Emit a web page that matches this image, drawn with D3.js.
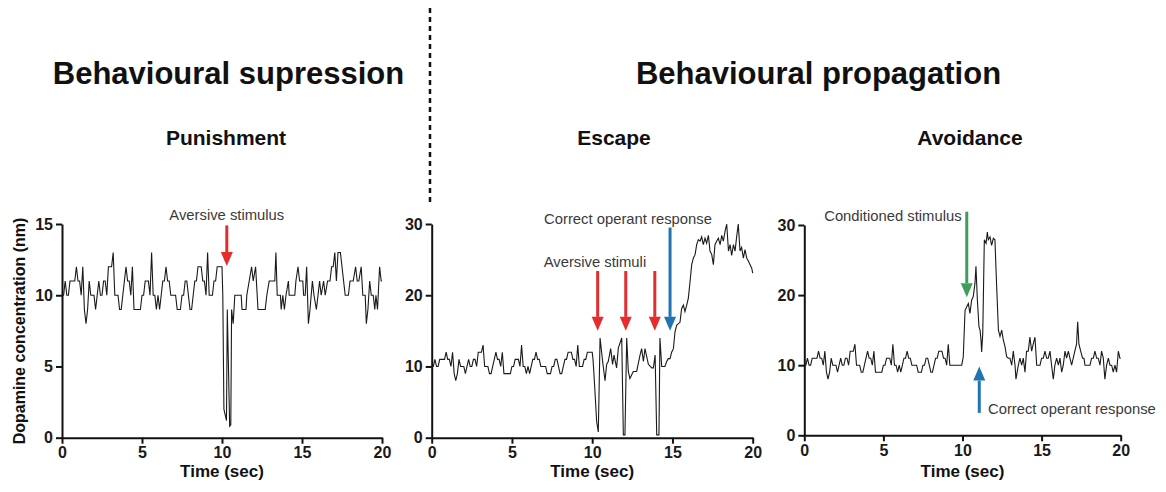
<!DOCTYPE html>
<html>
<head>
<meta charset="utf-8">
<script src="https://cdn.jsdelivr.net/npm/d3@7"></script>
<style>
  body { margin: 0; background: #fff; }
  svg { display: block; font-family: "Liberation Sans", Arial, sans-serif; }
</style>
</head>
<body>
<svg id="chart" width="1166" height="492"></svg>
<script>
// ---- data ----
// the shared pre-stimulus trace, one sample every 0.1 s from t = 0
const sampleStep = 0.1;
const baselineValues = [
  10,10,11,10,10,11,11,11,11,12,
  11,11,10,12, 9, 8, 9,11,10,10,
  10, 9,10,11,10,10,11,11,10,12,
  12,12,13,10,10,10, 9, 9,10,11,
  12,11,11,10,12, 9, 9, 9, 9, 9,
  10,10,11,11,11,10,13,10,10, 9,
  10, 9,10,11,11,12,11,11,10,10,
  10,10, 9, 9, 9,10,10,11,11,10,
   9, 9,10,11,11,12,12,12,11,11,
  10,13,10,10,10,11,11,12,12,12
];

// [time (s), dopamine (nM)] after the baseline
const punishmentTail = [
  [10.0,12],[10.05,10],[10.12,2],[10.28,1.2],[10.33,9],[10.48,0.8],[10.55,0.9],[10.6,9],[10.7,8],
  [10.8,10],[11.2,10],[11.25,9],[11.5,9],[11.55,10],[11.7,11],[11.85,12],[11.95,11],[12.1,12],
  [12.25,9],[12.7,9],[12.8,10],[12.95,11],[13.3,11],[13.37,13],[13.45,10],[13.65,10],[13.7,9],
  [13.8,10],[13.9,9],[14.0,10],[14.15,11],[14.2,10],[14.55,10],[14.62,11],[14.75,12],[14.85,11],
  [15.05,11],[15.1,10],[15.2,10],[15.29,12],[15.4,8],[15.5,9],[15.65,11],[15.75,10],[15.9,9],
  [16.1,11],[16.2,10],[16.35,11],[16.45,10],[16.6,11],[16.75,11],[16.85,12],[16.95,12],[17.05,13],
  [17.15,11],[17.25,13],[17.4,13],[17.5,12],[17.6,11],[17.7,10],[17.9,10],[18.0,11],[18.2,11],
  [18.35,12],[18.45,11],[18.55,11],[18.7,12],[18.8,10],[18.95,10],[19.02,8],[19.12,9],[19.23,11],
  [19.33,10],[19.45,10],[19.55,9],[19.62,10],[19.72,9],[19.85,12],[19.95,11],[20.0,11]
];

const escapeTail = [
  [10.0,12],[10.05,11],[10.1,9.3],[10.28,2.2],[10.38,0.8],[10.49,14],[10.65,10.7],[10.8,8],
  [10.9,10.3],[11.0,10.7],[11.15,12.5],[11.27,10.3],[11.36,11.6],[11.52,9.8],[11.63,12.6],
  [11.84,14],[11.94,0.4],[12.04,0.4],[12.15,14],[12.25,9.3],[12.35,8.3],[12.56,9.3],[12.77,9.3],
  [12.98,11.6],[13.08,12.5],[13.19,10.7],[13.29,12.5],[13.5,10.3],[13.71,9.8],[13.81,9.8],
  [13.92,11.6],[14.02,0.4],[14.16,0.4],[14.22,14],[14.33,10],[14.53,10],[14.64,10.7],[14.74,11.1],
  [14.85,11.1],[14.95,12],[15.06,12.5],[15.16,14.9],[15.27,15.8],[15.47,16.2],[15.57,18.1],
  [15.68,18.6],[15.78,17.7],[15.89,18.6],[15.99,19.6],[16.1,22],[16.2,24.3],[16.3,25.2],
  [16.41,25.7],[16.51,27.1],[16.61,27.8],[16.72,27.6],[16.82,28.2],[16.92,27.1],[17.03,28],
  [17.13,27.3],[17.24,28.4],[17.34,26.2],[17.45,25.7],[17.55,24.3],[17.65,27.1],[17.76,27.6],
  [17.86,28],[17.97,27.1],[18.07,28.4],[18.17,27.6],[18.28,29],[18.38,30],[18.49,26.2],
  [18.59,27.1],[18.69,25.6],[18.8,27.1],[18.9,26.2],[19.0,28.2],[19.1,30],[19.21,26.2],
  [19.31,26.7],[19.42,25.2],[19.52,26.4],[19.63,25.2],[19.73,24.8],[19.83,24.3],[19.94,23.8],
  [20.0,23.1]
];

const avoidanceTail = [
  [9.5,10],[9.95,10],[10.05,11.2],[10.16,17.8],[10.26,18.3],[10.37,18.8],[10.47,17.4],[10.58,19.3],
  [10.68,19.8],[10.79,21.7],[10.85,24.1],[10.94,19.3],[11.04,15.5],[11.11,15],[11.17,13.6],
  [11.21,11.9],[11.28,14.5],[11.38,27.9],[11.49,27.4],[11.57,29],[11.63,27.9],[11.74,28.3],
  [11.84,27.1],[11.95,28.1],[12.05,27.9],[12.16,21.2],[12.27,15],[12.37,14.1],[12.48,15],
  [12.58,13.6],[12.69,12.6],[12.79,11.2],[12.9,11],[13.0,11],[13.11,10],[13.21,12],[13.32,10],
  [13.38,8],[13.53,10],[13.63,11],[13.74,10],[13.84,11],[13.95,9],[14.05,12],[14.16,12],[14.26,14],
  [14.37,12],[14.47,13],[14.58,14],[14.69,10],[14.9,10],[15.0,11],[15.11,11],[15.21,12],[15.32,11],
  [15.42,11],[15.53,12],[15.63,10],[15.74,8],[15.84,10],[15.95,11],[16.06,10],[16.16,11],[16.27,9],
  [16.37,10],[16.48,12],[16.58,11],[16.69,12],[16.79,11],[16.9,10],[17.0,11],[17.1,12],[17.21,13],
  [17.28,16.2],[17.36,13],[17.47,12],[17.59,11],[17.68,11],[17.74,10],[17.95,10],[18.06,10],
  [18.16,11],[18.27,11],[18.37,12],[18.48,11],[18.58,11],[18.69,10],[18.79,12],[18.9,11],[19.0,8],
  [19.11,10],[19.22,11],[19.32,10],[19.43,10],[19.53,9],[19.64,10],[19.74,9],[19.85,12],[19.95,11],
  [20.0,11]
];

const xTicks = [0, 5, 10, 15, 20];
const punishmentYTicks = [0, 5, 10, 15];
const propagationYTicks = [0, 10, 20, 30];

// arrows: time, value at tail, value at tip, kind
const punishmentArrows = [{ t: 10.3, from: 14.9, to: 12.05, kind: "aversive" }];
const escapeArrows = [
  { t: 10.34, from: 23.4, to: 15, kind: "aversive" },
  { t: 12.09, from: 23.4, to: 15, kind: "aversive" },
  { t: 13.9, from: 23.4, to: 15, kind: "aversive" },
  { t: 14.85, from: 29.5, to: 15, kind: "response" }
];
const avoidanceArrows = [
  { t: 10.27, from: 31.9, to: 19.7, kind: "conditioned" },
  { t: 11.06, from: 3.2, to: 9.8, kind: "response" }
];

// labels: text, time, value, anchor
const punishmentNotes = [{ text: "Aversive stimulus", t: 10.3, v: 15.3, anchor: "middle" }];
const escapeNotes = [
  { text: "Correct operant response", t: 12.23, v: 30.0, anchor: "middle" },
  { text: "Aversive stimuli", t: 10.17, v: 24.0, anchor: "middle" }
];
const avoidanceNotes = [
  { text: "Conditioned stimulus", t: 5.6, v: 30.6, anchor: "middle" },
  { text: "Correct operant response", t: 11.61, v: 3.0, anchor: "start" }
];

const baselineSeries = baselineValues.map((v, i) => [i * sampleStep, v]);

// ---- layout ----
const arrowColor = { aversive: "#e52d2d", response: "#1f74b1", conditioned: "#3c9e58" };

const panels = [
  { title: "Punishment", titleX: 226, x0: 62, x1: 382, yTop: 224, yBottom: 437.7, yMax: 15,
    yTicks: punishmentYTicks, series: baselineSeries.concat(punishmentTail),
    arrows: punishmentArrows, notes: punishmentNotes },
  { title: "Escape", titleX: 614, x0: 431.7, x1: 752.7, yTop: 224, yBottom: 437.7, yMax: 30,
    yTicks: propagationYTicks, series: baselineSeries.concat(escapeTail),
    arrows: escapeArrows, notes: escapeNotes },
  { title: "Avoidance", titleX: 970, x0: 804.3, x1: 1120.7, yTop: 225, yBottom: 435.3, yMax: 30,
    yTicks: propagationYTicks, series: baselineSeries.slice(0, 95).concat(avoidanceTail),
    arrows: avoidanceArrows, notes: avoidanceNotes }
];

const svg = d3.select("#chart");

svg.append("rect").attr("width", 1166).attr("height", 492).attr("fill", "#fff");

// headings
svg.append("text").attr("x", 228.5).attr("y", 84).attr("text-anchor", "middle")
  .attr("font-size", 31).attr("font-weight", "bold").attr("fill", "#111")
  .text("Behavioural supression");
svg.append("text").attr("x", 818.5).attr("y", 84).attr("text-anchor", "middle")
  .attr("font-size", 31).attr("font-weight", "bold").attr("fill", "#111")
  .text("Behavioural propagation");

// dashed divider
svg.append("line").attr("x1", 430).attr("x2", 430).attr("y1", 8).attr("y2", 205)
  .attr("stroke", "#111").attr("stroke-width", 2.5).attr("stroke-dasharray", "5,4");

// y axis title
svg.append("text").attr("transform", "translate(25,331) rotate(-90)")
  .attr("text-anchor", "middle").attr("font-size", 16).attr("font-weight", "bold")
  .attr("fill", "#111").text("Dopamine concentration (nm)");

panels.forEach(p => {
  const x = d3.scaleLinear().domain([0, 20]).range([p.x0, p.x1]);
  const y = d3.scaleLinear().domain([0, p.yMax]).range([p.yBottom, p.yTop]);
  const g = svg.append("g");

  g.append("text").attr("x", p.titleX).attr("y", 145).attr("text-anchor", "middle")
    .attr("font-size", 21).attr("font-weight", "bold").attr("fill", "#111").text(p.title);

  const yAxis = g.append("g").attr("transform", `translate(${p.x0},0)`)
    .call(d3.axisLeft(y).tickValues(p.yTicks).tickSize(6).tickPadding(3).tickSizeOuter(0));
  const xAxis = g.append("g").attr("transform", `translate(0,${p.yBottom})`)
    .call(d3.axisBottom(x).tickValues(xTicks).tickSize(6).tickPadding(3).tickSizeOuter(0));

  [yAxis, xAxis].forEach(a => {
    a.select(".domain").attr("stroke", "#111").attr("stroke-width", 2);
    a.selectAll(".tick line").attr("stroke", "#111").attr("stroke-width", 2);
    a.selectAll(".tick text").attr("font-family", "Liberation Sans, Arial, sans-serif")
      .attr("font-size", 16).attr("font-weight", "bold").attr("fill", "#1a1a1a");
  });

  g.append("text").attr("x", (p.x0 + p.x1) / 2).attr("y", 477).attr("text-anchor", "middle")
    .attr("font-size", 17).attr("font-weight", "bold").attr("fill", "#111").text("Time (sec)");

  const line = d3.line().x(d => x(d[0])).y(d => y(d[1]));
  g.append("path").datum(p.series).attr("d", line)
    .attr("fill", "none").attr("stroke", "#1a1a1a").attr("stroke-width", 1.1)
    .attr("stroke-linejoin", "miter");

  p.arrows.forEach(a => {
    const ax = x(a.t), y1 = y(a.from), y2 = y(a.to);
    const dir = Math.sign(y2 - y1), head = 14, half = 6;
    const c = arrowColor[a.kind];
    g.append("line").attr("x1", ax).attr("x2", ax).attr("y1", y1).attr("y2", y2 - dir * head)
      .attr("stroke", c).attr("stroke-width", 3);
    g.append("path")
      .attr("d", `M${ax - half},${y2 - dir * head}L${ax + half},${y2 - dir * head}L${ax},${y2}Z`)
      .attr("fill", c);
  });

  p.notes.forEach(n => {
    g.append("text").attr("x", x(n.t)).attr("y", y(n.v)).attr("text-anchor", n.anchor)
      .attr("font-size", 14.8).attr("fill", "#3a3a3a").text(n.text);
  });
});
</script>
</body>
</html>
